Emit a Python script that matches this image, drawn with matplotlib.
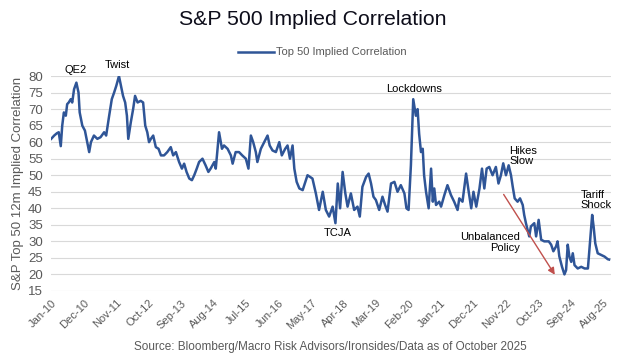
import matplotlib
matplotlib.use("Agg")
import matplotlib.pyplot as plt
import matplotlib.dates as mdates
import numpy as np
import pandas as pd

plt.rcParams['font.family'] = ['Liberation Sans', 'DejaVu Sans']

# values
dates = ["2010-01-01", "2010-02-01", "2010-03-01", "2010-03-20", "2010-04-10", "2010-04-25",
         "2010-05-12", "2010-06-01", "2010-06-15", "2010-07-01", "2010-07-22", "2010-08-06",
         "2010-08-25", "2010-09-18", "2010-10-10", "2010-10-22", "2010-11-18", "2010-12-15",
         "2011-01-01", "2011-01-28", "2011-02-15", "2011-03-18", "2011-04-22", "2011-05-25",
         "2011-07-01", "2011-07-22", "2011-08-22", "2011-09-18", "2011-10-12", "2011-11-03",
         "2011-12-01", "2011-12-22", "2012-01-12", "2012-02-03", "2012-02-21", "2012-03-06",
         "2012-04-01", "2012-04-25", "2012-05-15", "2012-06-10", "2012-07-12", "2012-08-06",
         "2012-08-28", "2012-09-18", "2012-10-06", "2012-10-25", "2012-11-18", "2012-12-15",
         "2013-01-12", "2013-02-06", "2013-03-10", "2013-04-12", "2013-05-18", "2013-06-12",
         "2013-07-10", "2013-08-12", "2013-09-10", "2013-10-03", "2013-10-28", "2013-11-25",
         "2013-12-22", "2014-01-15", "2014-02-10", "2014-03-06", "2014-04-10", "2014-05-12",
         "2014-06-10", "2014-07-03", "2014-08-10", "2014-08-25", "2014-09-28", "2014-10-28",
         "2014-11-18", "2014-12-25", "2015-01-28", "2015-02-15", "2015-03-18", "2015-04-22",
         "2015-05-25", "2015-07-01", "2015-07-28", "2015-08-22", "2015-09-15", "2015-10-12",
         "2015-10-28", "2015-12-03", "2016-01-06", "2016-02-10", "2016-03-03", "2016-04-01",
         "2016-05-06", "2016-06-10", "2016-07-06", "2016-08-10", "2016-09-03", "2016-09-28",
         "2016-10-25", "2016-11-12", "2016-12-06", "2017-01-03", "2017-02-06", "2017-03-28",
         "2017-05-18", "2017-06-22", "2017-07-25", "2017-09-01", "2017-10-03", "2017-11-06",
         "2017-12-12", "2018-01-10", "2018-02-03", "2018-02-27", "2018-03-25", "2018-04-22",
         "2018-05-15", "2018-06-18", "2018-07-22", "2018-08-25", "2018-09-18", "2018-10-15",
         "2018-11-22", "2018-12-18", "2019-01-12", "2019-02-06", "2019-03-03", "2019-04-06",
         "2019-05-10", "2019-06-06", "2019-07-01", "2019-08-06", "2019-09-10", "2019-10-12",
         "2019-11-15", "2019-12-22", "2020-01-12", "2020-02-03", "2020-02-27", "2020-03-22",
         "2020-04-18", "2020-05-06", "2020-05-22", "2020-06-10", "2020-06-28", "2020-07-12",
         "2020-08-01", "2020-08-28", "2020-09-22", "2020-10-10", "2020-10-25", "2020-11-12",
         "2020-12-15", "2021-01-03", "2021-02-06", "2021-03-10", "2021-04-15", "2021-05-18",
         "2021-06-22", "2021-07-10", "2021-08-12", "2021-09-18", "2021-10-15", "2021-11-10",
         "2021-12-03", "2022-01-01", "2022-02-03", "2022-03-01", "2022-03-25", "2022-04-18",
         "2022-05-15", "2022-06-18", "2022-07-22", "2022-08-18", "2022-09-12", "2022-10-06",
         "2022-11-03", "2022-12-01", "2022-12-25", "2023-01-12", "2023-02-01", "2023-03-03",
         "2023-03-28", "2023-04-25", "2023-05-10", "2023-05-28", "2023-07-01", "2023-07-18",
         "2023-08-22", "2023-09-10", "2023-10-06", "2023-11-01", "2023-12-03", "2024-01-18",
         "2024-02-12", "2024-03-06", "2024-04-03", "2024-04-18", "2024-05-06", "2024-06-03",
         "2024-06-28", "2024-07-15", "2024-08-01", "2024-08-18", "2024-09-06", "2024-09-22",
         "2024-10-10", "2024-11-12", "2024-12-18", "2025-01-22", "2025-02-25", "2025-03-18",
         "2025-04-10", "2025-04-25", "2025-05-12", "2025-06-06", "2025-07-10", "2025-08-15",
         "2025-09-18", "2025-10-01"]

corr = [61, 62, 62.7, 63, 58.8, 65,
        69, 68, 71.5, 72, 73, 72,
        76, 78, 75, 69, 65, 63.5,
        61, 57, 60, 62, 61, 61.5,
        63, 62, 68, 73, 75, 77,
        80, 77, 74, 72, 68, 61,
        66, 70, 74, 72, 72.5, 72,
        65, 63, 60, 61, 62, 58.5,
        58, 56, 56, 57, 58.5, 56,
        57, 54, 52, 53.5, 51, 49,
        48.5, 50, 52, 54, 55, 53,
        51, 52, 54, 52, 63, 58,
        59, 58, 56, 53.5, 57, 57,
        56, 55, 52, 62, 60, 57,
        54, 58, 60, 62, 59, 57.5,
        57, 60, 56, 58, 59, 55,
        59, 52, 48, 46, 45.5, 50,
        49, 44.5, 39.5, 45, 39.5, 37.5,
        40.5, 35.5, 47.5, 40, 51, 44.5,
        40.5, 44.5, 39.5, 40.5, 37.5, 46.5,
        49.5, 50.5, 47.5, 43.5, 42.5, 39.5,
        43.5, 41, 39, 47.5, 48, 45,
        47, 44.5, 40, 39.5, 53, 73,
        68, 70, 62.5, 57, 58, 50,
        45, 40, 52, 42, 46, 41,
        42, 40.5, 44, 47, 44, 42,
        39.5, 43, 42, 50.5, 45, 40,
        45, 40.5, 46, 52, 46, 52,
        52.5, 50, 52.5, 47.5, 50, 53.6,
        50, 53, 50, 46.5, 43, 42,
        43, 41, 38, 35.5, 31.5, 34.5,
        35.5, 31.5, 36.5, 30.5, 30, 30,
        29, 27, 28.5, 30, 25.5, 22.3,
        20, 21.3, 29, 25.4, 23.8, 26.4,
        22.8, 21.8, 22.3, 21.8, 21.8, 29.4,
        38, 34.4, 29.4, 26.4, 25.9, 25.4,
        24.6, 24.5]

tick_dates = pd.date_range("2010-01-01", periods=18, freq="11MS")
yticks = np.arange(15, 81, 5)

dates = pd.to_datetime(dates)

grey = "#595959"
blue = "#2F5597"

fig = plt.figure(figsize=(6.24, 3.57), dpi=100)
ax = fig.add_axes([0.082, 0.185, 0.897, 0.602])

ax.plot(dates, corr, color=blue, lw=1.8, label="Top 50 Implied Correlation")

ax.set_ylim(15, 80)
ax.set_yticks(yticks)
ax.set_xlim(pd.Timestamp("2010-01-01"), pd.Timestamp("2025-10-20"))
ax.set_xticks(tick_dates)
ax.xaxis.set_major_formatter(mdates.DateFormatter("%b-%y"))
plt.setp(ax.get_xticklabels(), rotation=45, ha="right", rotation_mode="anchor")
ax.tick_params(axis="x", length=0, pad=5, labelsize=8, labelcolor=grey)
ax.tick_params(axis="y", length=0, pad=6, labelsize=9.5, labelcolor=grey)
ax.grid(axis="y", color="#D9D9D9", lw=0.8)
ax.set_axisbelow(True)
for s in ax.spines.values():
    s.set_visible(False)

ax.set_ylabel("S&P Top 50 12m Implied Correlation", color=grey, fontsize=9.5, labelpad=3)

fig.text(0.502, 0.945, "S&P 500 Implied Correlation", ha="center", va="center", fontsize=15.3, color="#0D0D1A")
ax.legend(loc="lower center", bbox_to_anchor=(0.485, 1.04), frameon=False, fontsize=8,
          labelcolor=grey, handlelength=3.2, handletextpad=0.2)
fig.text(0.53, 0.028, "Source: Bloomberg/Macro Risk Advisors/Ironsides/Data as of October 2025",
         ha="center", va="center", fontsize=8.5, color=grey)

# event labels
ax.text(pd.Timestamp("2010-09-12"), 81.8, "QE2", ha="center", va="center", fontsize=8, clip_on=False)
ax.text(pd.Timestamp("2011-11-15"), 83.3, "Twist", ha="center", va="center", fontsize=8, clip_on=False)
ax.text(pd.Timestamp("2020-04-01"), 76, "Lockdowns", ha="center", va="center", fontsize=8)
ax.text(pd.Timestamp("2018-02-01"), 32.6, "TCJA", ha="center", va="center", fontsize=8)
ax.text(pd.Timestamp("2022-12-10"), 55.8, "Hikes\nSlow", ha="left", va="center", fontsize=8, linespacing=1.1)
ax.text(pd.Timestamp("2023-04-01"), 29.7, "Unbalanced\nPolicy", ha="right", va="center", fontsize=8,
        multialignment="right", linespacing=1.1)
ax.text(pd.Timestamp("2024-12-10"), 42.5, "Tariff\nShock", ha="left", va="center", fontsize=8, linespacing=1.1)

ax.annotate("", xy=(pd.Timestamp("2024-04-05"), 19.2), xytext=(pd.Timestamp("2022-09-25"), 44.9),
            arrowprops=dict(arrowstyle="-|>", color="#C0504D", lw=1.0, mutation_scale=10))

fig.savefig("out.png", dpi=100)
